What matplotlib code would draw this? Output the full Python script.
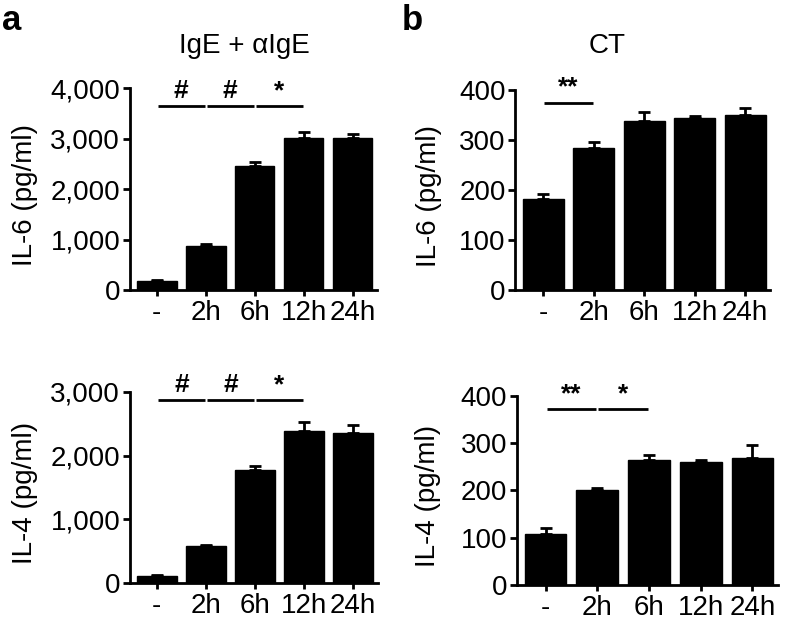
import numpy as np
import matplotlib
matplotlib.use("Agg")
import matplotlib.pyplot as plt
from matplotlib.ticker import FuncFormatter

plt.rcParams['font.family'] = ['Liberation Sans', 'DejaVu Sans']

# categories
times = ['-', '2h', '6h', '12h', '24h']

# panel a (IgE + aIgE)
il6_a = [180, 880, 2450, 3020, 3020]
il6_a_err = [15, 30, 80, 110, 80]
il4_a = [110, 580, 1770, 2380, 2350]
il4_a_err = [15, 20, 60, 140, 130]

# panel b (CT)
il6_b = [183, 285, 339, 344, 350]
il6_b_err = [10, 12, 18, 5, 15]
il4_b = [108, 200, 263, 259, 268]
il4_b_err = [13, 5, 12, 5, 28]

# significance brackets: (start, end, label)
sig_a = [(0, 1, '#'), (1, 2, '#'), (2, 3, '*')]
sig_b_top = [(0, 1, '**')]
sig_b_bot = [(0, 1, '**'), (1, 2, '*')]

fig = plt.figure(figsize=(7.87, 6.21), dpi=100)


def comma(v, pos):
    return f'{int(v):,}'


def draw_panel(rect, vals, errs, ylim, yticks, ylabel, sigs, sig_y, labx, fmt=None):
    ax = fig.add_axes(rect)
    x = np.arange(len(times))
    ax.bar(x, vals, width=0.81, color='black', edgecolor='black', zorder=2)
    ax.errorbar(x, vals, yerr=[np.zeros(len(errs)), errs], fmt='none',
                ecolor='black', elinewidth=2, capsize=4.5, capthick=2, zorder=1)
    ax.set_xlim(-0.55, 4.5)
    ax.set_ylim(0, ylim)
    ax.set_yticks(yticks)
    if fmt is not None:
        ax.yaxis.set_major_formatter(FuncFormatter(fmt))
    ax.set_xticks(x)
    ax.set_xticklabels(times)
    ax.set_ylabel(ylabel, fontsize=20)
    ax.yaxis.set_label_coords(labx, 0.47)
    ax.tick_params(axis='both', labelsize=20, width=2, length=5, direction='out', pad=2)
    ax.tick_params(axis='x', length=4, pad=3)
    for s in ['top', 'right']:
        ax.spines[s].set_visible(False)
    for s in ['left', 'bottom']:
        ax.spines[s].set_linewidth(2)
    for a, b, lab in sigs:
        ax.plot([a + 0.02, b - 0.02], [sig_y, sig_y], color='black', lw=2,
                solid_capstyle='butt', clip_on=False)
        ax.text((a + b) / 2, sig_y + ylim * 0.015, lab, ha='center', va='bottom',
                fontsize=19, fontweight='bold')
    return ax


ax1 = draw_panel([0.165, 0.533, 0.314, 0.325], il6_a, il6_a_err, 4000,
                 [0, 1000, 2000, 3000, 4000], 'IL-6 (pg/ml)', sig_a, 3650, -0.37, comma)

ax2 = draw_panel([0.165, 0.061, 0.315, 0.308], il4_a, il4_a_err, 3000,
                 [0, 1000, 2000, 3000], 'IL-4 (pg/ml)', sig_a, 2870, -0.37, comma)

ax3 = draw_panel([0.655, 0.533, 0.324, 0.322], il6_b, il6_b_err, 400,
                 [0, 100, 200, 300, 400], 'IL-6 (pg/ml)', sig_b_top, 375, -0.29)

ax4 = draw_panel([0.657, 0.058, 0.332, 0.305], il4_b, il4_b_err, 400,
                 [0, 100, 200, 300, 400], 'IL-4 (pg/ml)', sig_b_bot, 372, -0.29)

fig.text(244 / 787, 1 - 53 / 621, 'IgE + \u03b1IgE', fontsize=20, ha='center', va='baseline')
fig.text(607 / 787, 1 - 53 / 621, 'CT', fontsize=20, ha='center', va='baseline')

fig.text(0.003, 1 - 30 / 621, 'a', fontsize=25, fontweight='bold', va='baseline')
fig.text(0.51, 1 - 30 / 621, 'b', fontsize=25, fontweight='bold', va='baseline')

fig.savefig('out.png', dpi=100)
